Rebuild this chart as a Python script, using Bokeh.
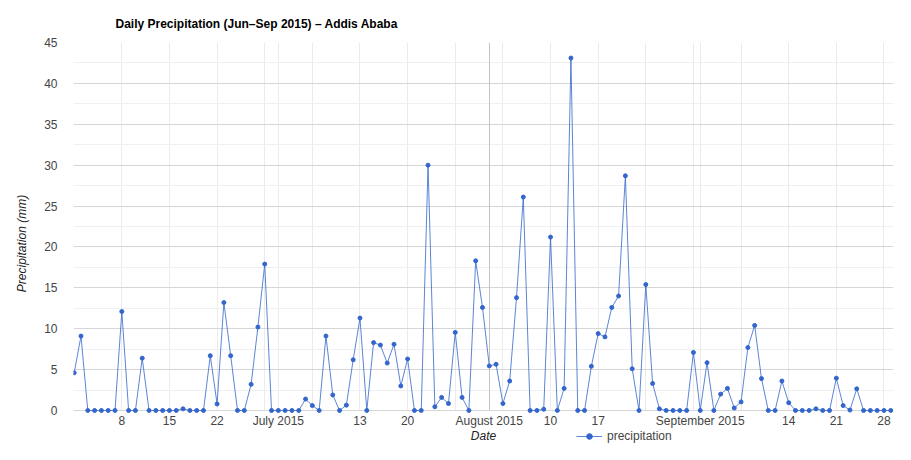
import datetime as dt
import numpy as np
from bokeh.plotting import figure
from bokeh.models import Range1d, FixedTicker, Legend, Grid, Title
from bokeh.embed import file_html
from bokeh.resources import INLINE

# ---------------- data ----------------
start_date = dt.date(2015, 6, 1)

precip_jun = [4.6, 9.1, 0, 0, 0, 0, 0, 12.1, 0, 0,
              6.4, 0, 0, 0, 0, 0, 0.2, 0, 0, 0,
              6.7, 0.8, 13.2, 6.7, 0, 0, 3.2, 10.2, 17.9, 0]
precip_jul = [0, 0, 0, 0, 1.4, 0.6, 0, 9.1, 1.9, 0,
              0.65, 6.2, 11.3, 0, 8.3, 8.0, 5.8, 8.1, 3.0, 6.3,
              0, 0, 30.0, 0.45, 1.6, 0.85, 9.55, 1.6, 0, 18.3, 12.6]
precip_aug = [5.45, 5.65, 0.85, 3.6, 13.8, 26.1, 0, 0, 0.15, 21.2,
              0, 2.7, 43.1, 0, 0, 5.4, 9.4, 9.0, 12.6, 14.0,
              28.7, 5.1, 0, 15.4, 3.3, 0.2, 0, 0, 0, 0, 7.1]
precip_sep = [0, 5.85, 0, 2.0, 2.7, 0.3, 1.05, 7.7, 10.4, 3.9,
              0, 0, 3.6, 0.95, 0, 0, 0, 0.2, 0, 0,
              3.95, 0.6, 0.05, 2.65, 0, 0, 0, 0, 0]
precip = precip_jun + precip_jul + precip_aug + precip_sep

tick_dates = ["2015-06-08", "2015-06-15", "2015-06-22", "2015-06-29", "2015-07-01",
              "2015-07-06", "2015-07-13", "2015-07-20", "2015-07-27", "2015-08-01",
              "2015-08-03", "2015-08-10", "2015-08-17", "2015-08-24", "2015-08-31",
              "2015-09-01", "2015-09-07", "2015-09-14", "2015-09-21", "2015-09-28"]
tick_labels = ["8", "15", "22", "", "July 2015",
               "", "13", "20", "", "August 2015",
               "", "10", "17", "", "",
               "September 2015", "", "14", "21", "28"]
highlight_dates = ["2015-08-01"]

y_ticks = [0, 5, 10, 15, 20, 25, 30, 35, 40, 45]
y_minor_ticks = [2.5, 7.5, 12.5, 17.5, 22.5, 27.5, 32.5, 37.5, 42.5]

title_text = "Daily  Precipitation (Jun\u2013Sep 2015) \u2013 Addis Ababa"
x_title = "Date"
y_title = "Precipitation (mm)"
series_name = "precipitation"

# ---------------- derived positions (day index) ----------------
def day_index(s):
    return (dt.date.fromisoformat(s) - start_date).days

x = np.arange(len(precip))
ticks = [day_index(d) for d in tick_dates]
overrides = {t: lab for t, lab in zip(ticks, tick_labels)}
hl_ticks = [day_index(d) for d in highlight_dates]

FONT = "Liberation Sans"
BLUE = "#3366cc"

p = figure(width=895, height=444, output_backend="svg", toolbar_location=None,
           x_range=Range1d(-0.1, 120.4), y_range=Range1d(-4.16, 45),
           min_border_left=70, min_border_right=2, min_border_top=42,
           min_border_bottom=0)
p.outline_line_color = None
p.border_fill_color = "white"
p.background_fill_color = "white"

# title
p.title.text = title_text
p.title.text_font = FONT
p.title.text_font_size = "12px"
p.title.text_font_style = "bold"
p.title.text_color = "#000000"
p.title.offset = 42
p.title.vertical_align = "top"
p.title.standoff = 20

# x axis, pinned to the zero line
xa = p.xaxis[0]
xa.fixed_location = 0
xa.ticker = FixedTicker(ticks=ticks)
xa.major_label_overrides = overrides
xa.axis_line_color = None
xa.major_tick_line_color = None
xa.minor_tick_line_color = None
xa.major_tick_out = 0
xa.major_tick_in = 0
xa.major_label_standoff = 4
xa.major_label_text_font = FONT
xa.major_label_text_font_size = "12px"
xa.major_label_text_color = "#444444"
xa.axis_label = x_title
xa.axis_label_text_font = FONT
xa.axis_label_text_font_size = "12px"
xa.axis_label_text_font_style = "italic"
xa.axis_label_text_color = "#222222"
xa.axis_label_standoff = -3

# y axis
ya = p.yaxis[0]
ya.ticker = FixedTicker(ticks=y_ticks, minor_ticks=y_minor_ticks)
ya.axis_line_color = None
ya.major_tick_line_color = None
ya.minor_tick_line_color = None
ya.major_tick_out = 0
ya.major_tick_in = 0
ya.major_label_standoff = 12
ya.major_label_text_font = FONT
ya.major_label_text_font_size = "12px"
ya.major_label_text_color = "#444444"

ytitle = Title(text=y_title, align="center", offset=30, standoff=25,
               text_font=FONT, text_font_size="12px", text_font_style="italic",
               text_color="#222222")
p.add_layout(ytitle, "left")

# grids
p.xgrid.grid_line_color = "#ebebeb"
p.ygrid.grid_line_color = "#d6d6d6"
p.ygrid.minor_grid_line_color = "#f0f0f0"
hl = Grid(dimension=0, ticker=FixedTicker(ticks=hl_ticks), grid_line_color="#c4c4c4")
p.add_layout(hl)
for g in (p.xgrid[0], hl):
    try:
        g.cross_bounds = (y_ticks[0], y_ticks[-1])
    except AttributeError:
        pass

# data
ln = p.line(x, precip, line_color=BLUE, line_width=1, line_alpha=0.8)
sc = p.scatter(x, precip, size=4, fill_color=BLUE, line_color=BLUE)

legend = Legend(items=[(series_name, [ln, sc])], location=(503, 1),
                orientation="horizontal", padding=0, margin=0, spacing=0,
                border_line_color=None, background_fill_alpha=0,
                glyph_width=26, glyph_height=14, label_height=14,
                label_standoff=5,
                label_text_font=FONT, label_text_font_size="12px",
                label_text_color="#444444")
p.add_layout(legend, "center")

open("out.html", "w").write(file_html(p, INLINE))
